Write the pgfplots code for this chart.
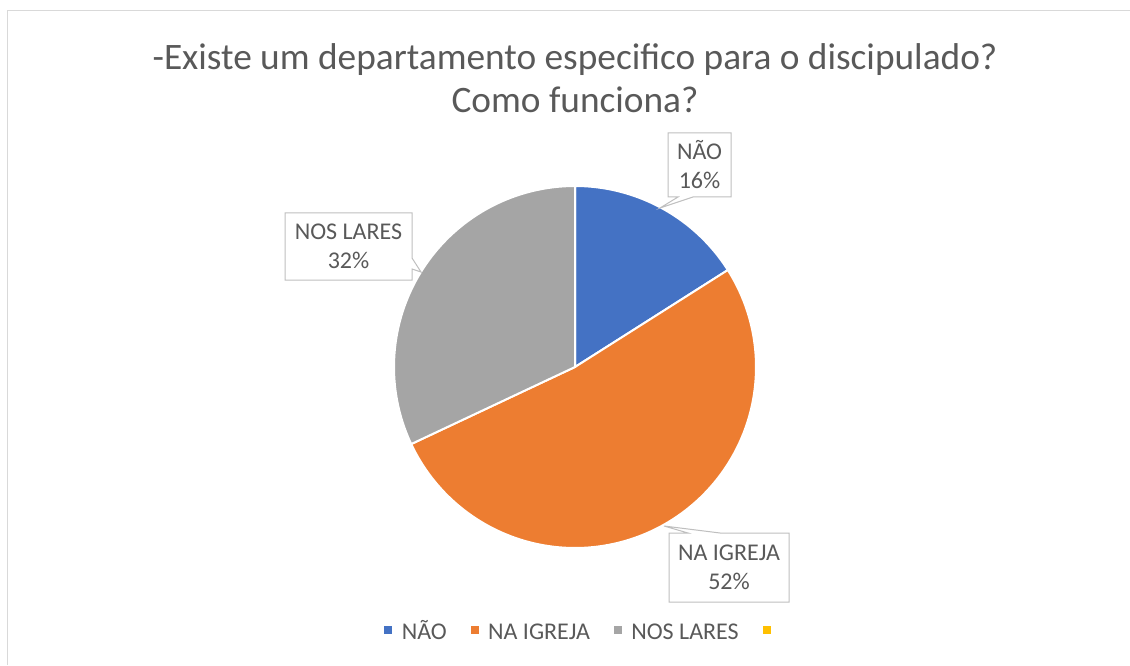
\documentclass[border=0pt]{standalone}
\usepackage{pgfplots}
\pgfplotsset{compat=1.18}
\usepackage{fontspec}
\setmainfont{Carlito}
\definecolor{cblue}{HTML}{4472C4}
\definecolor{corange}{HTML}{ED7D31}
\definecolor{cgray}{HTML}{A5A5A5}
\definecolor{cyellow}{HTML}{FFC000}
\definecolor{tgray}{HTML}{595959}
\definecolor{boxgray}{HTML}{BFBFBF}
\definecolor{framegray}{HTML}{D9D9D9}
% data (percent)
\def\vA{16}\def\vB{52}\def\vC{32}
\pgfmathsetmacro{\aA}{90-3.6*\vA}
\pgfmathsetmacro{\aB}{\aA-3.6*\vB}
\pgfmathsetmacro{\aC}{\aB-3.6*\vC}
\begin{document}
\begin{tikzpicture}
\begin{axis}[
  scale only axis, width=847.5pt, height=498.75pt,
  xmin=0, xmax=1130, ymin=0, ymax=665,
  hide axis, clip=false,
  legend style={at={(0.5194,0.048)}, anchor=center, draw=none, fill=none,
    legend columns=-1, font=\fontsize{18pt}{21pt}\selectfont, text=tgray,
    /tikz/every even column/.append style={column sep=11pt},
    nodes={inner xsep=7pt, text height=12.5pt, text depth=3.5pt}},
  legend image code/.code={\fill[#1,draw=none] (0pt,-0.5pt) rectangle (6pt,5.5pt);},
]
\addplot[fill=cblue, draw=white, line width=1.5pt, domain=\aA:90, samples=60, variable=\t]
  ({575+181*cos(\t)},{298+181*sin(\t)}) -- (axis cs:575,298) -- cycle;
\addlegendentry{NÃO}
\addplot[fill=corange, draw=white, line width=1.5pt, domain=\aB:\aA, samples=120, variable=\t]
  ({575+181*cos(\t)},{298+181*sin(\t)}) -- (axis cs:575,298) -- cycle;
\addlegendentry{NA IGREJA}
\addplot[fill=cgray, draw=white, line width=1.5pt, domain=\aC:\aB, samples=90, variable=\t]
  ({575+181*cos(\t)},{298+181*sin(\t)}) -- (axis cs:575,298) -- cycle;
\addlegendentry{NOS LARES}
\addplot[fill=cyellow, draw=none] coordinates {(575,298)};
\addlegendentry{}

% frame
\draw[framegray, line width=1.2pt] (axis cs:7.5,0) -- (axis cs:7.5,654.5) -- (axis cs:1130,654.5);

% title
\node[align=center, text=tgray, font=\fontsize{28pt}{32.25pt}\selectfont] at (axis cs:575,586.5)
  {-Existe um departamento especifico para o discipulado?\\Como funciona?};

% callouts
\draw[boxgray, line width=0.75pt, fill=white] (axis cs:668,532) -- (axis cs:731,532) -- (axis cs:731,468) -- (axis cs:693,468) -- (axis cs:660,457) -- (axis cs:678,468) -- (axis cs:668,468) -- cycle;
\node[align=center, text=tgray, font=\fontsize{18pt}{21.75pt}\selectfont] at (axis cs:699.5,500) {NÃO\\16\%};

\draw[boxgray, line width=0.75pt, fill=white] (axis cs:285,452) -- (axis cs:412,452) -- (axis cs:412,407) -- (axis cs:421,393) -- (axis cs:412,396) -- (axis cs:412,385) -- (axis cs:285,385) -- cycle;
\node[align=center, text=tgray, font=\fontsize{18pt}{21.75pt}\selectfont] at (axis cs:348.5,418.5) {NOS LARES\\32\%};

\draw[boxgray, line width=0.75pt, fill=white] (axis cs:669,132) -- (axis cs:688,132) -- (axis cs:664,139) -- (axis cs:720,132) -- (axis cs:789,132) -- (axis cs:789,63) -- (axis cs:669,63) -- cycle;
\node[align=center, text=tgray, font=\fontsize{18pt}{21.75pt}\selectfont] at (axis cs:729,97.5) {NA IGREJA\\52\%};
\end{axis}
\pgfresetboundingbox
\path (current axis.south west) rectangle (current axis.north east);
\end{tikzpicture}
\end{document}
